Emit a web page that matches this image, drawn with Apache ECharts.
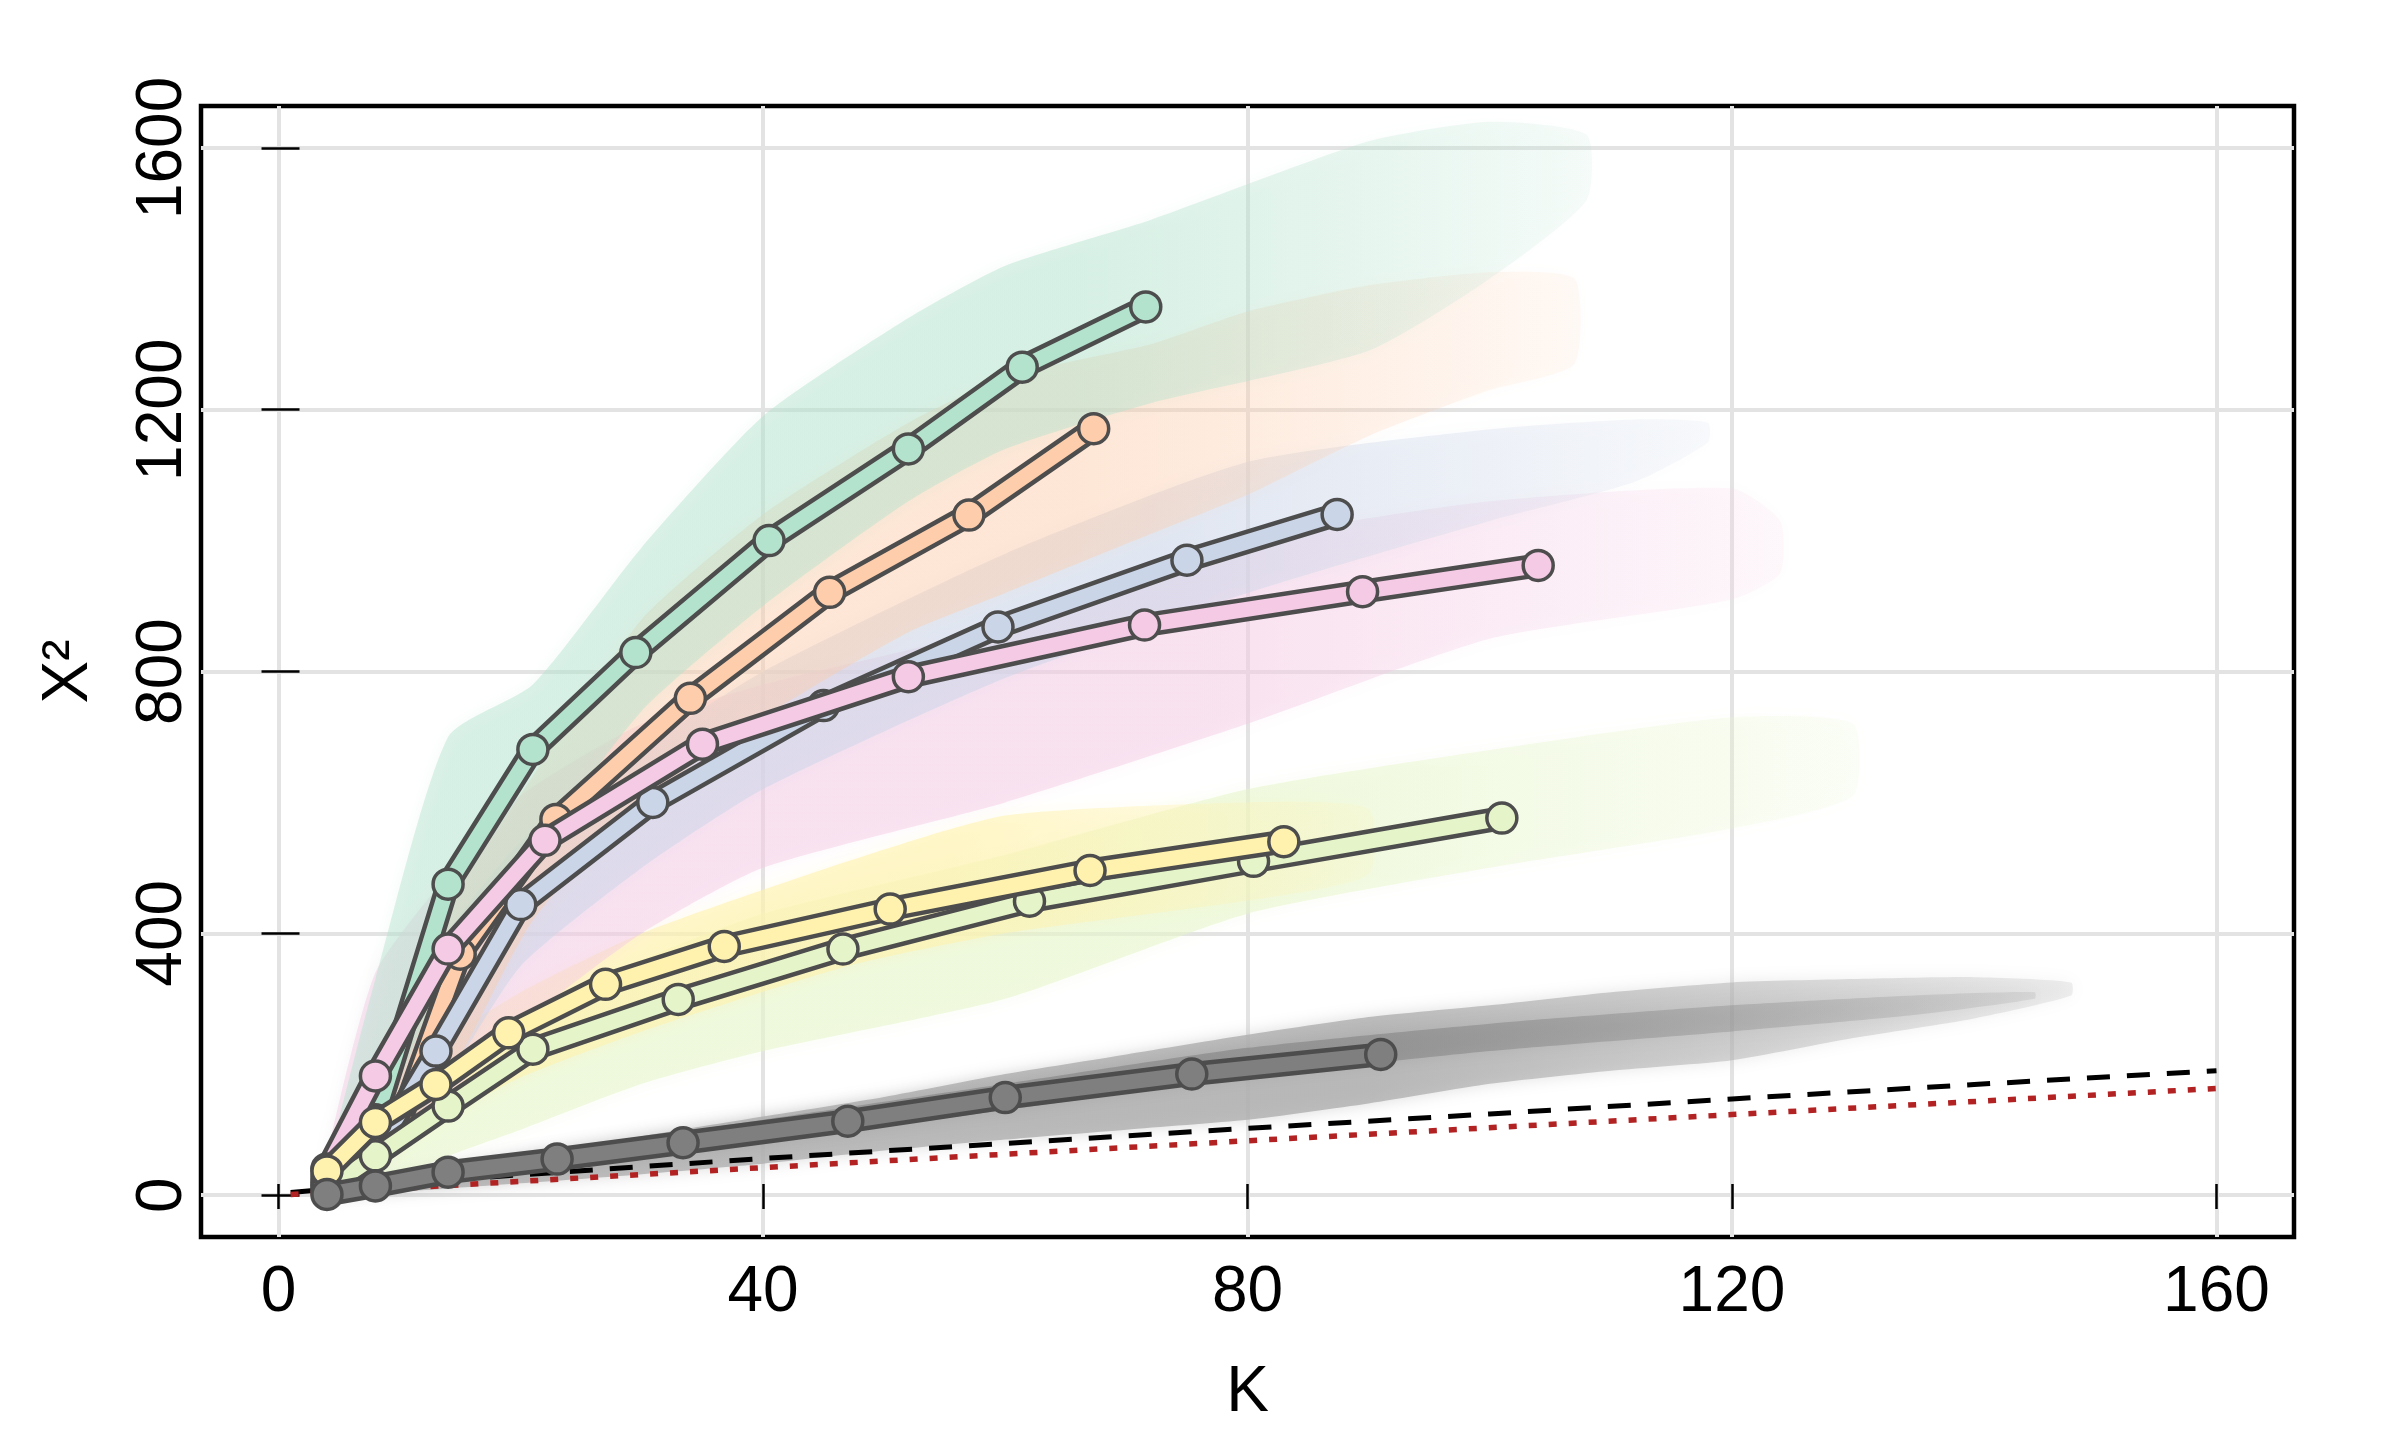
<!DOCTYPE html>
<html>
<head>
<meta charset="utf-8">
<title>X2 against K</title>
<script src="https://cdn.jsdelivr.net/npm/echarts@6/dist/echarts.min.js"></script>
<style>
  html, body { margin: 0; padding: 0; background: #fff; }
  #main { width: 2400px; height: 1440px; }
</style>
</head>
<body>
<div id="main"></div>
<script>
  const FONT = 'Liberation Sans, Arial, sans-serif';

  const xTicks = [0, 40, 80, 120, 160];
  const yTicks = [0, 400, 800, 1200, 1600];

  // highlighted runs, one per group (K, X2)
  const kGreen = [4, 8, 14, 21, 29.5, 40.5, 52, 61.4, 71.6];
  const x2Green = [20, 115, 475, 681, 829, 1000, 1140, 1265, 1357];
  const kOrange = [4, 10, 15, 22.9, 34, 45.5, 57, 67.3];
  const x2Orange = [28, 110, 368, 574, 759, 921, 1039, 1171];
  const kBlue = [4, 8, 13, 20, 30.9, 45, 59.4, 75, 87.4];
  const x2Blue = [15, 65, 220, 444, 600, 748, 868, 970, 1040];
  const kPink = [4, 8, 14, 22, 35, 52, 71.5, 89.5, 104];
  const x2Pink = [40, 182, 376, 542, 689, 792, 871, 922, 962];
  const kLime = [4, 8, 14, 21, 33, 46.6, 62, 80.5, 101];
  const x2Lime = [10, 60, 136, 223, 299, 376, 449, 510, 576];
  const kYellow = [4, 8, 13, 19, 27, 36.8, 50.5, 67, 83];
  const x2Yellow = [37, 111, 169, 248, 322, 380, 437, 496, 540];
  const kGrey = [4, 8, 14, 23, 33.4, 47, 60, 75.4, 91];
  const x2Grey = [1, 14, 35, 55, 80, 113, 149, 185, 215];

  // reference curves
  const kDashed = [1, 10, 20, 40, 60, 80, 100, 120, 140, 160];
  const x2Dashed = [4, 18, 31, 56, 79, 102, 124, 147, 169, 190];
  const kDotted = [1, 40, 80, 120, 160];
  const x2Dotted = [1, 42, 83, 123, 163];

  // spread of the faint background runs of each group (lower / upper edge)
  const bandGreenK = [4, 8, 14, 21, 30, 40, 52, 60, 72, 90, 100, 108];
  const bandGreenLo = [5, 90, 350, 520, 740, 900, 1060, 1140, 1210, 1290, 1400, 1520];
  const bandGreenHi = [40, 330, 700, 780, 990, 1190, 1340, 1420, 1490, 1610, 1640, 1620];

  const bandOrangeK = [4, 8, 14, 21, 30, 40, 52, 60, 72, 80, 90, 100, 107];
  const bandOrangeLo = [5, 50, 180, 420, 600, 730, 860, 920, 1010, 1070, 1160, 1230, 1270];
  const bandOrangeHi = [30, 200, 440, 640, 880, 1040, 1180, 1250, 1300, 1350, 1390, 1410, 1400];

  const bandBlueK = [4, 8, 14, 20, 30, 40, 60, 80, 100, 112, 118];
  const bandBlueLo = [5, 40, 180, 350, 500, 620, 790, 920, 1030, 1090, 1150];
  const bandBlueHi = [25, 150, 400, 540, 680, 800, 980, 1120, 1170, 1185, 1180];

  const bandPinkK = [4, 8, 14, 20, 30, 40, 60, 80, 100, 120, 124];
  const bandPinkLo = [5, 40, 150, 260, 400, 500, 600, 720, 850, 910, 950];
  const bandPinkHi = [60, 340, 490, 610, 720, 780, 870, 1000, 1060, 1080, 1030];

  const bandLimeK = [4, 8, 14, 20, 30, 40, 60, 80, 100, 120, 130];
  const bandLimeLo = [2, 15, 60, 100, 170, 220, 300, 430, 500, 560, 610];
  const bandLimeHi = [20, 90, 190, 270, 360, 430, 520, 620, 680, 730, 720];

  const bandYellowK = [4, 8, 14, 20, 30, 47, 60, 80, 90];
  const bandYellowLo = [10, 50, 120, 180, 250, 350, 400, 450, 490];
  const bandYellowHi = [40, 150, 240, 310, 400, 510, 580, 600, 590];

  const bandGreyK = [4, 10, 20, 30, 40, 50, 60, 70, 80, 90, 100, 110, 120, 130, 140, 148];
  const bandGreyLo = [0, 5, 18, 32, 48, 68, 85, 100, 115, 140, 170, 190, 206, 240, 270, 305];
  const bandGreyHi = [5, 30, 60, 90, 120, 150, 185, 215, 245, 272, 290, 310, 325, 330, 333, 325];
  const coreGreyK = [4, 20, 40, 60, 80, 100, 120, 135, 145];
  const coreGreyLo = [0, 35, 80, 130, 180, 220, 250, 275, 300];
  const coreGreyHi = [4, 60, 115, 170, 225, 262, 290, 305, 310];

  const pairs = (k, v) => k.map((x, i) => [x, v[i]]);

  function rgba(rgb, a) {
    return 'rgba(' + rgb.join(',') + ',' + a + ')';
  }

  // faint bundle: filled polygon between lower and upper edge, fading where runs stop
  function bandSeries(k, lo, hi, rgb, alpha, z) {
    return {
      type: 'custom',
      coordinateSystem: 'cartesian2d',
      silent: true,
      clip: true,
      z: z,
      data: [[k[0], lo[0]]],
      renderItem: function (params, api) {
        const pts = [];
        for (let i = 0; i < k.length; i++) pts.push(api.coord([k[i], hi[i]]));
        for (let i = k.length - 1; i >= 0; i--) pts.push(api.coord([k[i], lo[i]]));
        const x0 = api.coord([k[0], 0])[0];
        const x1 = api.coord([k[k.length - 1], 0])[0];
        const grad = new echarts.graphic.LinearGradient(x0, 0, x1, 0, [
          { offset: 0, color: rgba(rgb, alpha) },
          { offset: 0.6, color: rgba(rgb, alpha) },
          { offset: 1, color: rgba(rgb, alpha * 0.25) }
        ], true);
        return {
          type: 'polygon',
          shape: { points: pts, smooth: 0.2 },
          style: { fill: grad, shadowBlur: 16, shadowColor: rgba(rgb, alpha * 0.7) }
        };
      }
    };
  }

  function lineSeries(k, v, stroke, width, z) {
    return {
      type: 'custom',
      coordinateSystem: 'cartesian2d',
      silent: true,
      z: z,
      data: [[k[0], v[0]]],
      renderItem: function (params, api) {
        const pts = k.map((x, i) => api.coord([x, v[i]]));
        return {
          type: 'polyline',
          shape: { points: pts },
          style: { stroke: stroke, lineWidth: width, fill: 'none', lineJoin: 'round' }
        };
      }
    };
  }

  // one highlighted run: dark outline, coloured core, ringed points
  function runSeries(k, v, fill, z) {
    return [
      lineSeries(k, v, '#4d4d4d', 24, z),
      lineSeries(k, v, fill, 15, z),
      {
        type: 'scatter', data: pairs(k, v), z: z, symbol: 'circle', symbolSize: 30, silent: true,
        itemStyle: { color: fill, borderColor: '#4d4d4d', borderWidth: 3.5, opacity: 1 }
      }
    ];
  }

  const series = [
    bandSeries(bandGreyK, bandGreyLo, bandGreyHi, [175, 175, 175], 0.8, 1),
    bandSeries(coreGreyK, coreGreyLo, coreGreyHi, [130, 130, 130], 0.6, 1),
    bandSeries(bandLimeK, bandLimeLo, bandLimeHi, [230, 245, 201], 0.55, 1),
    bandSeries(bandYellowK, bandYellowLo, bandYellowHi, [255, 242, 174], 0.6, 1),
    bandSeries(bandPinkK, bandPinkLo, bandPinkHi, [244, 202, 228], 0.48, 1),
    bandSeries(bandBlueK, bandBlueLo, bandBlueHi, [203, 213, 232], 0.5, 1),
    bandSeries(bandOrangeK, bandOrangeLo, bandOrangeHi, [253, 205, 172], 0.42, 1),
    bandSeries(bandGreenK, bandGreenLo, bandGreenHi, [179, 226, 205], 0.45, 1),
    {
      type: 'line', data: pairs(kDashed, x2Dashed), z: 2, symbol: 'none', silent: true,
      lineStyle: { color: '#000', width: 5, type: [23, 17] }
    },
    {
      type: 'line', data: pairs(kDotted, x2Dotted), z: 2, symbol: 'none', silent: true,
      lineStyle: { color: '#B22222', width: 5.5, type: [8, 12] }
    }
  ].concat(
    runSeries(kGreen, x2Green, '#B3E2CD', 3),
    runSeries(kOrange, x2Orange, '#FDCDAC', 4),
    runSeries(kBlue, x2Blue, '#CBD5E8', 5),
    runSeries(kPink, x2Pink, '#F4CAE4', 6),
    runSeries(kLime, x2Lime, '#E6F5C9', 7),
    runSeries(kYellow, x2Yellow, '#FFF2AE', 8),
    runSeries(kGrey, x2Grey, '#7f7f7f', 9)
  );

  const tickStyle = { color: '#000', width: 2.5 };

  const chart = echarts.init(document.getElementById('main'), null, { renderer: 'canvas' });
  chart.setOption({
    animation: false,
    backgroundColor: '#fff',
    grid: {
      left: 201, top: 106, width: 2093, height: 1131,
      show: true, borderColor: '#000', borderWidth: 4.5, backgroundColor: 'transparent'
    },
    xAxis: [
      {
        type: 'value', position: 'bottom', min: -6.4, max: 166.4,
        minInterval: 40, maxInterval: 40,
        axisLine: { show: false },
        axisTick: { show: true, length: 14, customValues: xTicks, lineStyle: tickStyle },
        axisLabel: {
          customValues: xTicks, fontSize: 64, color: '#000', margin: 24, fontFamily: FONT,
          formatter: function (v) { return String(v); }
        },
        splitLine: { show: true, lineStyle: { color: '#e3e3e3', width: 4 } },
        name: 'K', nameLocation: 'middle', nameGap: 124,
        nameTextStyle: { fontSize: 64, color: '#000', fontFamily: FONT }
      },
      {
        type: 'value', position: 'bottom', min: -6.4, max: 166.4,
        minInterval: 40, maxInterval: 40,
        axisLine: { show: false },
        axisTick: { show: true, inside: true, length: 11, customValues: xTicks, lineStyle: tickStyle },
        axisLabel: { show: false },
        splitLine: { show: false }
      }
    ],
    yAxis: [
      {
        type: 'value', position: 'left', min: -64, max: 1664,
        minInterval: 400, maxInterval: 400,
        axisLine: { show: false },
        axisTick: { show: true, length: 17, customValues: yTicks, lineStyle: tickStyle },
        axisLabel: {
          customValues: yTicks, rotate: 90, fontSize: 64, color: '#000', margin: 6, fontFamily: FONT,
          formatter: function (v) { return String(v); }
        },
        splitLine: { show: true, lineStyle: { color: '#e3e3e3', width: 4 } },
        name: 'X²', nameLocation: 'middle', nameGap: 100,
        nameTextStyle: { fontSize: 64, color: '#000', fontFamily: FONT }
      },
      {
        type: 'value', position: 'left', min: -64, max: 1664,
        minInterval: 400, maxInterval: 400,
        axisLine: { show: false },
        axisTick: { show: true, inside: true, length: 21, customValues: yTicks, lineStyle: tickStyle },
        axisLabel: { show: false },
        splitLine: { show: false }
      }
    ],
    series: series
  });
</script>
</body>
</html>
